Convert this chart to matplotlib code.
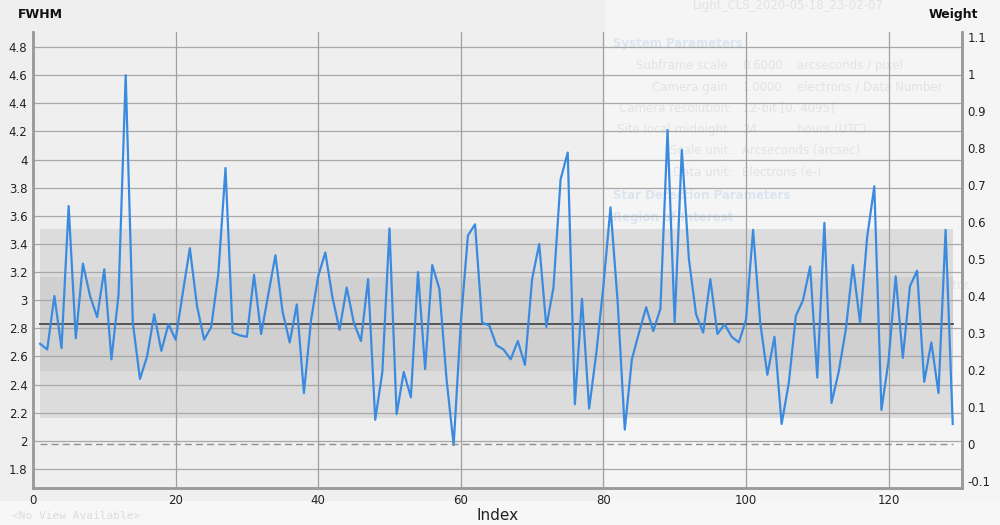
import numpy as np
import matplotlib
matplotlib.use("Agg")
import matplotlib.pyplot as plt
from matplotlib.patches import Rectangle

# FWHM per subframe
index = list(range(1, 130))
fwhm = [
    2.69, 2.65, 3.03, 2.66, 3.67, 2.73, 3.26, 3.03, 2.88, 3.22,
    2.58, 3.04, 4.60, 2.84, 2.44, 2.60, 2.90, 2.64, 2.83, 2.72,
    3.05, 3.37, 2.96, 2.72, 2.81, 3.19, 3.94, 2.77, 2.75, 2.74,
    3.18, 2.76, 3.04, 3.32, 2.92, 2.70, 2.97, 2.34, 2.86, 3.17,
    3.34, 3.02, 2.79, 3.09, 2.84, 2.71, 3.15, 2.15, 2.49, 3.51,
    2.19, 2.49, 2.31, 3.20, 2.51, 3.25, 3.08, 2.44, 1.97, 2.84,
    3.46, 3.54, 2.84, 2.82, 2.68, 2.65, 2.58, 2.71, 2.54, 3.15,
    3.40, 2.81, 3.09, 3.86, 4.05, 2.26, 3.01, 2.23, 2.62, 3.10,
    3.66, 2.99, 2.08, 2.58, 2.77, 2.95, 2.78, 2.94, 4.21, 2.84,
    4.07, 3.29, 2.90, 2.77, 3.15, 2.76, 2.83, 2.74, 2.70, 2.86,
    3.50, 2.84, 2.47, 2.74, 2.12, 2.41, 2.89, 3.00, 3.24, 2.45,
    3.55, 2.27, 2.49, 2.79, 3.25, 2.84, 3.45, 3.81, 2.22, 2.57,
    3.17, 2.59, 3.10, 3.21, 2.42, 2.70, 2.34, 3.50, 2.12,
]
# weight is flat for every frame
weight = [0.0] * len(index)

fwhm_mean = 2.833
fwhm_sigma = 0.335

fwhm_ticks = [1.8, 2, 2.2, 2.4, 2.6, 2.8, 3, 3.2, 3.4, 3.6, 3.8, 4, 4.2, 4.4, 4.6, 4.8]
weight_ticks = [-0.1, 0, 0.1, 0.2, 0.3, 0.4, 0.5, 0.6, 0.7, 0.8, 0.9, 1, 1.1]
index_ticks = [0, 20, 40, 60, 80, 100, 120]

bg = "#efefef"
fig = plt.figure(figsize=(10, 5.25), dpi=100, facecolor=bg)

# faint ghost of the dialog window behind the graph (lighter right part)
fig.patches.append(Rectangle((0.605, 0.0), 0.395, 1.0, transform=fig.transFigure,
                             facecolor="#f5f5f5", edgecolor="none", zorder=-5))
fig.patches.append(Rectangle((0.0, 0.0), 1.0, 0.045, transform=fig.transFigure,
                             facecolor="#f7f7f7", edgecolor="none", zorder=-5))
ghost = "#e3e3e3"
ghost_blue = "#dbe5f1"
labels = [("Subframe scale:", 0.876), ("Camera gain:", 0.834), ("Camera resolution:", 0.794),
          ("Site local midnight:", 0.754), ("Scale unit:", 0.713), ("Data unit:", 0.672),
          ("Directory:", 0.457), ("Prefix:", 0.417), ("Keywords:", 0.375)]
for txt, y in labels:
    fig.text(0.732, y, txt, fontsize=8.5, color=ghost, ha="right", va="center", zorder=-4)
fields = [("0.6000", 0.876, "arcseconds / pixel"), ("1.0000", 0.834, "electrons / Data Number"),
          ("12-bit [0, 4095]", 0.794, ""), ("24", 0.754, "hours (UTC)"),
          ("Arcseconds (arcsec)", 0.713, ""), ("Electrons (e-)", 0.672, ""),
          ("/media/jm-astro/Prg/SubframeSelector", 0.457, ""),
          ("Overwrite existing files", 0.335, "")]
for txt, y, unit in fields:
    fig.text(0.742, y, txt, fontsize=8.5, color=ghost, ha="left", va="center", zorder=-4)
    if unit:
        fig.text(0.797, y, unit, fontsize=8.5, color=ghost, ha="left", va="center", zorder=-4)
for txt, y in [("System Parameters", 0.918), ("Star Detection Parameters", 0.627),
               ("Region of Interest", 0.585), ("Format Hints", 0.543), ("Output Files", 0.501)]:
    fig.text(0.613, y, txt, fontsize=8.5, color=ghost_blue, fontweight="bold",
             ha="left", va="center", zorder=-4)
fig.text(0.693, 0.99, "Light_CLS_2020-05-18_23-02-07", fontsize=8.5,
         color=ghost, ha="left", va="center", zorder=-4)
fig.text(0.012, 0.008, "<No View Available>", fontsize=8, color="#dcdcdc",
         family="DejaVu Sans Mono", ha="left", va="bottom", zorder=-4)

ax = fig.add_axes([0.033, 0.0705, 0.929, 0.8685])
ax.set_facecolor("none")

x0, x1 = index[0], index[-1]
# sigma bands and mean line
ax.add_patch(Rectangle((x0, fwhm_mean - 2 * fwhm_sigma), x1 - x0, 4 * fwhm_sigma,
                       facecolor="#dcdcdc", edgecolor="none", zorder=1))
ax.add_patch(Rectangle((x0, fwhm_mean - fwhm_sigma), x1 - x0, 2 * fwhm_sigma,
                       facecolor="#d0d0d0", edgecolor="none", zorder=1))
ax.plot([x0, x1], [fwhm_mean, fwhm_mean], color="#555555", lw=1.4, zorder=3)

for t in fwhm_ticks:
    ax.axhline(t, color="#a8a8a8", lw=0.9, zorder=2)
for t in index_ticks:
    ax.axvline(t, color="#a0a0a0", lw=0.9, zorder=2)

ax.plot(index, fwhm, color="#3a8be0", lw=1.6, zorder=5)

ax.set_xlim(0, 130.3)
ax.set_ylim(1.665, 4.907)
ax.set_yticks(fwhm_ticks)
ax.set_yticklabels(["%g" % t for t in fwhm_ticks])
ax.set_xticks(index_ticks)
ax.tick_params(length=0, labelsize=8.5, colors="#222222", pad=4)
ax.set_xlabel("Index", fontsize=11, color="#222222", labelpad=1)

ax2 = ax.twinx()
ax2.plot(index, weight, color="#909090", lw=1.0, ls=(0, (5, 3)), zorder=4)
ax2.set_ylim(-0.119, 1.1135)
ax2.set_yticks(weight_ticks)
ax2.set_yticklabels(["%g" % t for t in weight_ticks])
ax2.tick_params(length=0, labelsize=8.5, colors="#222222", pad=4)

for a in (ax, ax2):
    a.spines["top"].set_visible(False)
    for s in ("left", "bottom", "right"):
        a.spines[s].set_color("#9a9a9a")
        a.spines[s].set_linewidth(1.8)

fig.text(0.018, 0.972, "FWHM", fontsize=9, fontweight="bold", color="#111111", va="center")
fig.text(0.978, 0.972, "Weight", fontsize=9, fontweight="bold", color="#111111", va="center", ha="right")

fig.savefig("out.png", dpi=100, facecolor=bg)
